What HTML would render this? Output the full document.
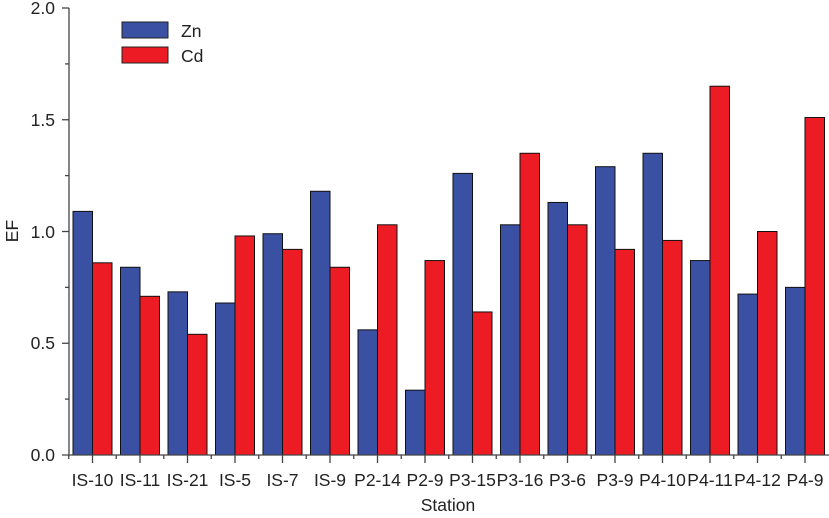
<!DOCTYPE html><html><head><style>body{margin:0;background:#fff}svg text{font-family:"Liberation Sans",Arial,sans-serif;fill:#222}</style></head><body>
<svg width="829" height="513" xmlns="http://www.w3.org/2000/svg">
<g id="bars"></g>
<g stroke="#444" stroke-width="1.3" fill="none">
<line x1="69" y1="8" x2="69" y2="455"/>
<line x1="62" y1="455" x2="829" y2="455"/>
<line x1="62" y1="8" x2="69" y2="8"/><line x1="62" y1="119.75" x2="69" y2="119.75"/><line x1="62" y1="231.5" x2="69" y2="231.5"/><line x1="62" y1="343.25" x2="69" y2="343.25"/>
<line x1="65" y1="63.9" x2="69" y2="63.9"/><line x1="65" y1="175.6" x2="69" y2="175.6"/><line x1="65" y1="287.4" x2="69" y2="287.4"/><line x1="65" y1="399.1" x2="69" y2="399.1"/>
<g id="ticks"></g>
</g>
<g font-size="17.5" text-anchor="end">
<text x="55" y="14">2.0</text><text x="55" y="126">1.5</text><text x="55" y="238">1.0</text><text x="55" y="349">0.5</text><text x="55" y="461">0.0</text>
</g>
<g id="labels" font-size="17.5" text-anchor="middle"></g>
<text x="448" y="511" font-size="17.5" text-anchor="middle">Station</text>
<text transform="translate(18,231) rotate(-90)" font-size="17.5" text-anchor="middle">EF</text>
<rect x="122" y="22" width="46" height="16" fill="#3a50a3" stroke="#222"/>
<rect x="122" y="47" width="46" height="16" fill="#ed1c24" stroke="#222"/>
<text x="181" y="37" font-size="17.5">Zn</text><text x="181" y="62" font-size="17.5">Cd</text>
</svg>
<script>
const zn=[1.09,0.84,0.73,0.68,0.99,1.18,0.56,0.29,1.26,1.03,1.13,1.29,1.35,0.87,0.72,0.75];
const cd=[0.86,0.71,0.54,0.98,0.92,0.84,1.03,0.87,0.64,1.35,1.03,0.92,0.96,1.65,1.00,1.51];
const lb=["IS-10","IS-11","IS-21","IS-5","IS-7","IS-9","P2-14","P2-9","P3-15","P3-16","P3-6","P3-9","P4-10","P4-11","P4-12","P4-9"];
const ns="http://www.w3.org/2000/svg";
function el(t,a,p){const e=document.createElementNS(ns,t);for(const k in a)e.setAttribute(k,a[k]);document.getElementById(p).appendChild(e);return e;}
const s=223.5,w=19.5;
for(let i=0;i<16;i++){const c=92.5+i*47.5;
el("rect",{x:c-w,y:455-zn[i]*s,width:w,height:zn[i]*s,fill:"#3a50a3",stroke:"#111","stroke-width":1},"bars");
el("rect",{x:c,y:455-cd[i]*s,width:w,height:cd[i]*s,fill:"#ed1c24",stroke:"#111","stroke-width":1},"bars");
el("line",{x1:c,y1:455,x2:c,y2:463},"ticks");
el("line",{x1:c-23.75,y1:455,x2:c-23.75,y2:459},"ticks");
el("text",{x:c,y:486},"labels").textContent=lb[i];}
</script>
</body></html>
